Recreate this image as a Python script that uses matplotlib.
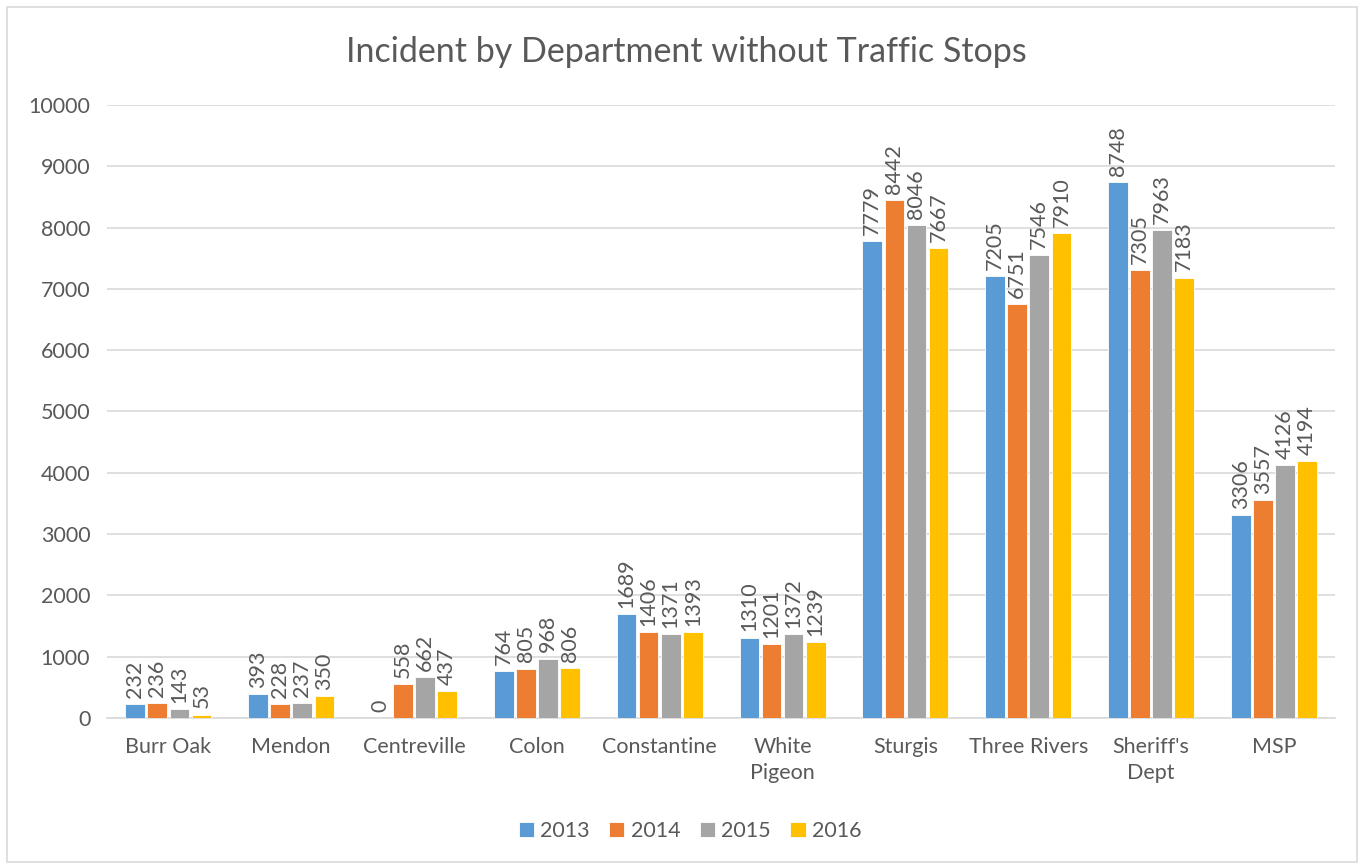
import numpy as np
import matplotlib.pyplot as plt
from matplotlib.patches import Rectangle

departments = ["Burr Oak", "Mendon", "Centreville", "Colon", "Constantine",
               "White\nPigeon", "Sturgis", "Three Rivers", "Sheriff's\nDept", "MSP"]
years = ["2013", "2014", "2015", "2016"]
v2013 = [232, 393, 0, 764, 1689, 1310, 7779, 7205, 8748, 3306]
v2014 = [236, 228, 558, 805, 1406, 1201, 8442, 6751, 7305, 3557]
v2015 = [143, 237, 662, 968, 1371, 1372, 8046, 7546, 7963, 4126]
v2016 = [53, 350, 437, 806, 1393, 1239, 7667, 7910, 7183, 4194]
colors = ["#5B9BD5", "#ED7D31", "#A5A5A5", "#FFC000"]

txt = "#595959"
plt.rcParams['font.family'] = ['Lato', 'DejaVu Sans']

fig = plt.figure(figsize=(13.64, 8.67), dpi=100)
ax = fig.add_axes([0.0784, 0.172, 0.9006, 0.707])

x = np.arange(len(departments))
w = 0.16
step = 0.18
for i, (vals, c) in enumerate(zip([v2013, v2014, v2015, v2016], colors)):
    pos = x + (i - 1.5) * step
    ax.bar(pos, vals, width=w, color=c, edgecolor="white", linewidth=0.6,
           label=years[i], zorder=3)
    for p, v in zip(pos, vals):
        ax.text(p, v + 100, str(v), rotation=90, ha="center", va="bottom",
                fontsize=15.5, color=txt, zorder=4)

ax.set_xlim(-0.5, len(departments) - 0.5)
ax.set_ylim(0, 10000)
ax.set_yticks(np.arange(0, 10001, 1000))
ax.grid(axis="y", color="#D9D9D9", linewidth=1.2, zorder=0)
for s in ["top", "right", "left"]:
    ax.spines[s].set_visible(False)
ax.spines["bottom"].set_color("#D9D9D9")
ax.spines["bottom"].set_linewidth(1.2)
ax.tick_params(axis="both", length=0, labelsize=15.5, colors=txt)
ax.tick_params(axis="y", pad=12)
ax.tick_params(axis="x", pad=14)
ax.set_xticks(x)
ax.set_xticklabels(departments, linespacing=1.35)

fig.text(0.503, 0.94, "Incident by Department without Traffic Stops",
         ha="center", va="center", fontsize=24.5, color=txt)

ax.legend(loc="center", bbox_to_anchor=(0.506, 0.042), bbox_transform=fig.transFigure,
          ncol=4, frameon=False, fontsize=15.5, labelcolor=txt,
          handlelength=0.7, handleheight=0.7, handletextpad=0.3, columnspacing=0.9)

fig.patches.append(Rectangle((7 / 1364, 1 - 862 / 867), 1350 / 1364, 855 / 867,
                             transform=fig.transFigure, fill=False,
                             edgecolor="#D9D9D9", linewidth=1.2))

fig.savefig("out.png", dpi=100)
